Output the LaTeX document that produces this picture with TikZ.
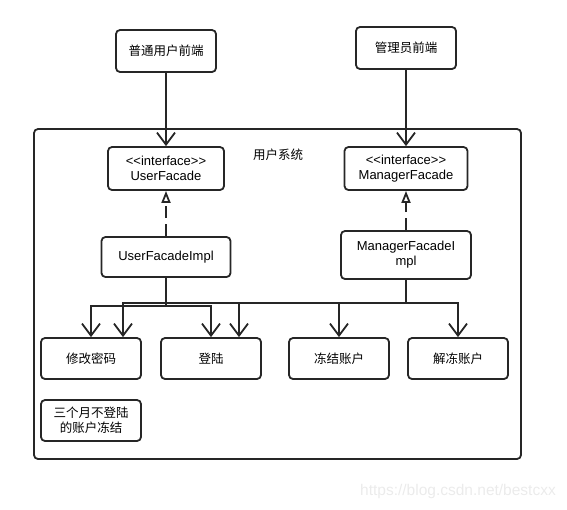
\documentclass[tikz,border=0pt]{standalone}
\usepackage{fontspec}
\setmainfont{Liberation Sans}
\newfontfamily\cjk{Noto Sans CJK SC}
\usetikzlibrary{arrows.meta,calc}
\begin{document}
\begin{tikzpicture}[x=1pt,y=-1pt,
  box/.style={draw=black!85,line width=1.8pt,rounded corners=4pt,fill=white,align=center,inner sep=1pt,font=\fontsize{13}{15}\selectfont},
  cbox/.style={box,font=\cjk\fontsize{12.5}{15}\selectfont},
  arr/.style={draw=black!85,line width=1.8pt,-{Straight Barb[length=12pt,width=18pt,line width=1.8pt]}},
  impl/.style={draw=black!85,line width=1.8pt,dash pattern=on 12pt off 6pt,-{Triangle[open,length=12pt,width=9pt,line width=1.8pt,fill=white]}}]
\useasboundingbox (0,0) rectangle (567,509);
% outer system
\node[draw=black!85,line width=1.8pt,rounded corners=4pt,minimum width=487pt,minimum height=330pt,inner sep=0pt] (sys) at (277.5,294) {};
\node[font=\cjk\fontsize{12.5}{15}\selectfont] (syslbl) at (278,155) {用户系统};
% front ends
\node[cbox,minimum width=100pt,minimum height=42pt] (pt) at (166,51) {普通用户前端};
\node[cbox,minimum width=100pt,minimum height=42pt] (gl) at (406,48) {管理员前端};
% interfaces
\node[box,minimum width=116pt,minimum height=43pt] (uf) at (166,168.5) {<{}<interface>{}>\\UserFacade};
\node[box,minimum width=123pt,minimum height=43pt] (mf) at (406,168.5) {<{}<interface>{}>\\ManagerFacade};
% impls
\node[box,minimum width=129pt,minimum height=40pt] (ufi) at (166,257) {UserFacadeImpl};
\node[box,minimum width=130pt,minimum height=48pt] (mfi) at (406,255) {ManagerFacadeI\\mpl};
% functions
\node[cbox,minimum width=100pt,minimum height=41pt] (xg) at (91,358.5) {修改密码};
\node[cbox,minimum width=100pt,minimum height=41pt] (dl) at (211,358.5) {登陆};
\node[cbox,minimum width=100pt,minimum height=41pt] (dj) at (339,358.5) {冻结账户};
\node[cbox,minimum width=100pt,minimum height=41pt] (jd) at (458,358.5) {解冻账户};
\node[cbox,minimum width=100pt,minimum height=41pt] (sg) at (91,420.5) {三个月不登陆\\的账户冻结};
% connectors
\draw[arr] (pt.south) -- (uf.north);
\draw[arr] (gl.south) -- (mf.north);
\draw[impl] (ufi.north) -- (uf.south);
\draw[impl] (mfi.north) -- (mf.south);
\draw[arr] (ufi.south) |- ([yshift=31pt]xg.north) -- (xg.north);
\draw[arr] (ufi.south) |- ([yshift=31pt]dl.north) -- (dl.north);
\draw[arr] (mfi.south) |- ([xshift=32pt,yshift=34pt]xg.north) -- ([xshift=32pt]xg.north);
\draw[arr] (mfi.south) |- ([xshift=28pt,yshift=34pt]dl.north) -- ([xshift=28pt]dl.north);
\draw[arr] (mfi.south) |- ([yshift=34pt]dj.north) -- (dj.north);
\draw[arr] (mfi.south) |- ([yshift=34pt]jd.north) -- (jd.north);
% watermark
\node[text=black!8,font=\fontsize{15.5}{18}\selectfont,anchor=west,inner sep=0pt] (wm) at (360,491) {https://blog.csdn.net/bestcxx};
\end{tikzpicture}
\end{document}
